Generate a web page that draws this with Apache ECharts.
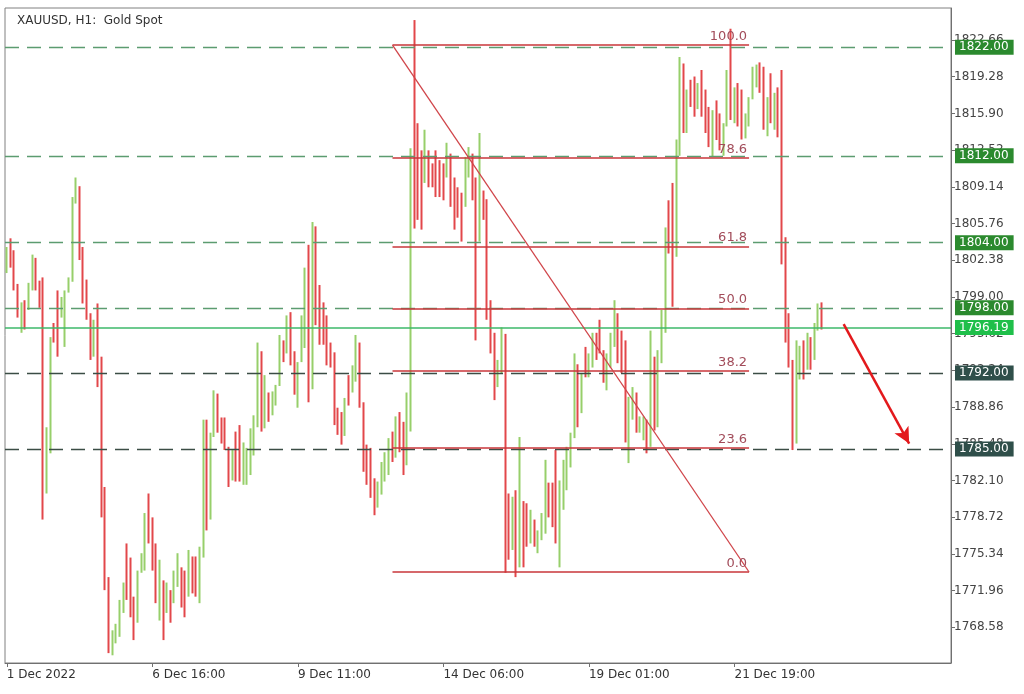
<!DOCTYPE html>
<html><head><meta charset="utf-8">
<script src="https://cdn.jsdelivr.net/npm/echarts@6/dist/echarts.min.js"></script>
<style>html,body{margin:0;padding:0;background:#fff}#c{width:1024px;height:694px}</style>
</head><body><div id="c"></div><script>
const chartTitle = 'XAUUSD, H1:  Gold Spot';
const xTickLabels = ['1 Dec 2022','6 Dec 16:00','9 Dec 11:00','14 Dec 06:00','19 Dec 01:00','21 Dec 19:00'];
const barsPerTick = 40;
const categoryCount = 260;
const yTicks = [1768.58,1771.96,1775.34,1778.72,1782.10,1785.48,1788.86,1792.24,1795.62,1799.00,1802.38,1805.76,1809.14,1812.52,1815.90,1819.28,1822.66];
const yMin = 1765.29, yMax = 1825.61;
// [open, close, low, high]
const priceBars = [
[1801.6,1803.0,1801.2,1803.6],[1803.0,1802.2,1801.7,1804.4],[1802.2,1800.0,1799.6,1803.3],[1800.0,1797.6,1797.1,1800.2],
[1796.5,1798.0,1795.7,1798.5],[1798.0,1796.6,1796.0,1798.7],[1798.0,1799.9,1797.8,1800.3],[1799.9,1802.4,1799.6,1802.9],
[1802.4,1800.0,1799.6,1802.6],[1800.0,1798.2,1798.0,1800.5],[1798.5,1783.0,1778.5,1800.8],[1783.0,1786.5,1780.9,1787.0],
[1786.5,1794.5,1784.6,1795.3],[1796.4,1795.0,1794.8,1796.6],[1799.0,1795.0,1793.5,1799.6],[1797.5,1798.6,1797.1,1799.0],
[1795.0,1799.0,1794.4,1799.6],[1799.5,1800.6,1799.4,1800.8],[1800.6,1807.8,1800.4,1808.2],[1807.8,1809.5,1807.6,1810.0],
[1809.0,1803.0,1802.4,1809.2],[1803.0,1799.0,1798.4,1803.6],[1799.5,1797.5,1796.9,1800.6],[1797.2,1793.8,1793.2,1797.5],
[1794.0,1796.3,1793.5,1796.9],[1798.0,1791.5,1790.7,1798.4],[1792.5,1780.5,1778.7,1793.5],[1780.5,1773.0,1772.0,1781.5],
[1773.0,1767.0,1766.2,1773.2],[1767.0,1767.8,1766.0,1768.3],[1767.6,1768.7,1767.1,1768.9],[1768.5,1770.8,1767.7,1771.1],
[1770.5,1772.4,1769.9,1772.7],[1775.8,1771.8,1771.1,1776.3],[1774.5,1770.0,1769.5,1775.0],[1770.5,1768.2,1767.4,1771.4],
[1769.5,1773.3,1769.0,1773.8],[1773.8,1775.1,1773.6,1775.4],[1774.5,1778.8,1773.8,1779.1],[1780.5,1777.0,1776.3,1780.9],
[1778.2,1774.5,1773.8,1778.7],[1775.8,1771.5,1770.8,1776.3],[1771.5,1773.5,1769.2,1774.8],[1772.5,1768.2,1767.4,1772.9],
[1770.2,1772.2,1769.9,1772.7],[1771.8,1770.0,1769.0,1772.0],[1771.2,1773.5,1770.8,1773.8],[1772.8,1775.0,1772.3,1775.4],
[1773.8,1771.0,1770.4,1774.1],[1773.0,1770.0,1769.5,1773.8],[1772.0,1775.2,1771.4,1775.7],[1775.0,1772.5,1771.7,1775.1],
[1774.5,1772.0,1771.4,1775.1],[1771.5,1775.5,1770.8,1776.0],[1775.5,1786.5,1775.0,1787.7],[1787.2,1779.0,1777.5,1787.7],
[1779.5,1785.8,1778.5,1786.5],[1786.5,1790.0,1786.1,1790.4],[1789.8,1787.0,1786.5,1790.1],[1787.5,1786.0,1785.5,1787.9],
[1787.3,1785.3,1784.9,1787.9],[1785.0,1782.0,1781.5,1785.2],[1782.3,1784.0,1782.1,1784.9],[1785.8,1783.0,1782.0,1786.6],
[1786.5,1782.5,1782.0,1787.2],[1782.0,1785.0,1781.7,1785.6],[1782.5,1784.5,1781.7,1785.1],[1783.0,1786.5,1782.6,1786.9],
[1785.0,1787.8,1784.4,1788.1],[1787.8,1793.5,1787.0,1794.8],[1793.0,1787.5,1786.6,1794.0],[1787.5,1790.5,1786.9,1791.8],
[1790.0,1788.0,1787.5,1790.2],[1788.5,1790.0,1788.1,1790.3],[1789.5,1790.7,1789.0,1790.9],[1791.0,1795.0,1790.8,1795.5],
[1794.6,1793.4,1793.0,1795.0],[1794.0,1797.0,1793.8,1797.3],[1797.3,1793.5,1792.7,1797.6],[1793.5,1790.8,1790.0,1794.0],
[1789.5,1792.8,1788.8,1793.0],[1793.5,1797.0,1793.0,1797.3],[1795.5,1801.0,1794.3,1801.7],[1801.5,1791.0,1789.3,1803.8],
[1791.5,1805.0,1790.5,1805.9],[1805.0,1797.5,1796.4,1805.5],[1799.5,1795.5,1794.6,1800.1],[1798.2,1795.0,1794.6,1798.5],
[1797.0,1793.5,1792.7,1797.3],[1794.5,1792.9,1792.5,1794.8],[1793.5,1788.0,1787.2,1793.9],[1788.5,1786.8,1786.3,1788.8],
[1788.0,1786.0,1785.4,1788.4],[1786.5,1789.4,1786.2,1789.7],[1791.5,1789.3,1789.0,1791.8],[1790.4,1792.4,1790.2,1792.7],
[1791.5,1795.0,1791.2,1795.5],[1794.5,1789.5,1788.8,1794.8],[1789.0,1783.5,1782.9,1789.3],[1785.0,1782.0,1781.7,1785.4],
[1784.5,1781.0,1780.5,1785.1],[1782.0,1779.5,1778.9,1782.3],[1780.0,1781.8,1779.6,1782.0],[1781.2,1783.5,1780.8,1783.8],
[1782.5,1784.5,1782.0,1784.7],[1783.0,1785.7,1782.6,1786.0],[1786.0,1784.3,1783.8,1786.6],[1784.5,1787.5,1784.2,1788.0],
[1788.0,1785.2,1784.7,1788.4],[1786.5,1783.5,1782.6,1787.5],[1784.0,1789.8,1783.5,1790.2],[1789.8,1811.0,1786.6,1812.7],
[1813.5,1811.5,1805.3,1824.5],[1811.5,1808.0,1806.1,1815.0],[1811.5,1806.0,1805.2,1812.5],[1809.8,1813.5,1809.5,1814.4],
[1812.2,1810.5,1809.1,1812.5],[1811.0,1809.8,1809.1,1811.3],[1812.0,1809.0,1808.2,1812.5],[1811.2,1808.8,1808.2,1811.6],
[1811.0,1808.5,1807.9,1811.3],[1810.2,1812.8,1810.0,1813.2],[1812.0,1808.0,1807.3,1812.2],[1809.5,1806.0,1805.2,1810.0],
[1808.5,1806.8,1806.3,1809.1],[1808.0,1804.8,1804.1,1808.6],[1807.5,1811.3,1807.3,1811.9],[1810.5,1812.5,1810.0,1812.8],
[1812.0,1808.5,1807.9,1812.2],[1809.5,1800.0,1795.0,1810.0],[1805.0,1808.5,1804.1,1814.1],[1808.6,1806.5,1806.1,1808.8],
[1807.5,1798.0,1796.9,1808.0],[1798.5,1794.5,1793.8,1798.7],[1795.0,1790.5,1789.5,1795.7],[1790.8,1792.8,1790.7,1793.2],
[1792.5,1795.8,1792.0,1796.2],[1795.5,1779.0,1773.6,1795.6],[1779.0,1775.5,1774.8,1780.9],[1776.0,1779.8,1775.7,1780.6],
[1780.5,1774.0,1773.2,1781.2],[1774.3,1782.5,1774.1,1786.1],[1780.0,1775.0,1774.1,1780.2],[1779.5,1777.0,1776.0,1780.0],
[1777.0,1778.8,1776.3,1779.4],[1778.3,1776.5,1776.0,1778.5],[1775.8,1777.2,1775.4,1777.5],[1777.0,1778.8,1776.6,1779.1],
[1777.5,1783.0,1777.2,1784.0],[1781.5,1779.2,1778.7,1781.9],[1781.5,1778.5,1777.8,1781.9],[1784.0,1777.0,1776.3,1784.9],
[1774.5,1781.5,1774.1,1782.1],[1780.0,1783.5,1779.4,1784.0],[1783.0,1784.8,1781.2,1785.2],[1784.0,1786.2,1783.3,1786.5],
[1786.3,1792.5,1786.0,1793.8],[1792.5,1788.0,1787.0,1792.8],[1788.5,1791.7,1788.3,1792.0],[1793.8,1792.0,1791.6,1794.4],
[1792.0,1793.5,1791.6,1793.8],[1793.0,1795.3,1792.5,1795.7],[1795.3,1794.0,1793.2,1795.7],[1796.5,1794.3,1793.8,1796.9],
[1794.0,1791.5,1791.1,1794.1],[1791.0,1793.5,1790.4,1793.8],[1793.0,1795.4,1792.5,1795.7],[1795.0,1797.5,1794.4,1798.7],
[1797.0,1793.5,1792.9,1797.5],[1795.5,1792.5,1792.0,1795.9],[1794.5,1787.0,1785.6,1795.0],[1785.0,1789.2,1783.7,1789.8],
[1788.0,1790.3,1787.7,1790.7],[1790.0,1787.0,1786.5,1790.2],[1786.8,1787.8,1786.5,1788.0],[1786.2,1787.6,1785.8,1788.0],
[1787.5,1785.0,1784.6,1787.7],[1785.5,1794.5,1785.2,1795.9],[1793.0,1787.5,1786.7,1793.5],[1787.5,1793.5,1787.0,1794.1],
[1793.0,1797.5,1792.9,1797.8],[1796.0,1804.5,1795.7,1805.4],[1807.5,1804.0,1803.0,1807.9],[1808.5,1800.0,1798.1,1809.5],
[1803.5,1812.5,1802.7,1813.5],[1812.5,1820.0,1812.0,1821.1],[1819.5,1815.5,1814.1,1820.5],[1815.0,1817.8,1814.1,1818.1],
[1818.5,1817.0,1816.5,1819.0],[1819.0,1816.0,1815.6,1819.3],[1816.5,1818.2,1816.3,1818.7],[1819.5,1816.0,1815.6,1819.9],
[1817.5,1814.5,1814.1,1818.1],[1816.0,1813.5,1812.8,1816.5],[1812.5,1815.8,1811.9,1816.2],[1816.8,1814.0,1813.45,1817.1],
[1815.6,1813.0,1812.5,1815.9],[1812.5,1814.8,1812.0,1815.0],[1815.0,1819.3,1814.7,1819.9],[1819.0,1815.5,1815.3,1823.7],
[1815.5,1818.0,1815.0,1818.3],[1818.2,1815.3,1814.7,1818.7],[1817.5,1814.5,1813.5,1818.1],[1814.0,1815.6,1813.6,1815.9],
[1815.3,1817.0,1814.7,1817.4],[1817.4,1819.8,1817.2,1820.2],[1818.8,1820.0,1818.3,1820.4],[1820.0,1818.5,1817.8,1820.6],
[1820.0,1815.0,1814.4,1820.2],[1814.2,1817.0,1813.8,1817.4],[1819.3,1815.5,1815.0,1819.6],[1815.0,1817.5,1814.4,1817.8],
[1818.0,1814.5,1813.7,1818.3],[1815.0,1804.0,1802.0,1819.9],[1804.0,1796.0,1794.8,1804.5],[1796.5,1793.0,1792.5,1797.5],
[1793.0,1786.5,1784.9,1793.2],[1787.0,1794.0,1785.5,1795.0],[1792.0,1793.3,1791.4,1794.5],[1794.8,1792.0,1791.4,1795.0],
[1792.5,1795.2,1792.3,1795.7],[1795.0,1792.8,1792.3,1795.3],[1793.5,1796.2,1793.2,1796.6],[1796.2,1798.0,1795.9,1798.4],
[1798.0,1796.19,1796.0,1798.5]
];
const greenLevels = [1822.00, 1812.00, 1804.00, 1798.00];
const grayLevels = [1792.00, 1785.00];
const currentPrice = 1796.19;
const fibRatios = [100, 78.6, 61.8, 50, 38.2, 23.6, 0];
const fibHigh = 1822.2, fibLow = 1773.67;
const fibStartBar = 106, fibEndBar = 204;
const arrowFrom = [230, 1796.5], arrowTo = [248, 1785.5];

const FONT = 'DejaVu Sans';
const categories = Array.from({length: categoryCount}, (_, i) =>
  (i % barsPerTick === 0 && xTickLabels[i / barsPerTick]) ? xTickLabels[i / barsPerTick] : '');

function levelLine(v, lineColor, dash, bg, width) {
  return {
    yAxis: v,
    lineStyle: {color: lineColor, type: dash, width: width},
    label: {show: true, position: 'end', distance: 4, formatter: v.toFixed(2),
      backgroundColor: bg, color: '#ffffff', padding: [2, 5, 1, 4],
      fontSize: 12, fontFamily: FONT}
  };
}
const mlData = [];
greenLevels.forEach(v => mlData.push(levelLine(v, '#5c9c70', [14, 8], '#2b8a2e', 1.4)));
grayLevels.forEach(v => mlData.push(levelLine(v, '#3b4d45', [14, 8], '#2f4f4a', 1.4)));
mlData.push(levelLine(currentPrice, '#3cb96a', 'solid', '#1fbf4a', 1.5));
fibRatios.forEach(r => {
  const lvl = fibLow + (fibHigh - fibLow) * r / 100;
  mlData.push([
    {coord: [fibStartBar, lvl], lineStyle: {color: '#c8363a', width: 1.5, type: 'solid'},
     label: {show: true, position: 'insideEndTop', distance: 2, formatter: r.toFixed(1),
       color: '#a24c5a', fontSize: 13, fontFamily: FONT}},
    {coord: [fibEndBar, lvl]}
  ]);
});
mlData.push([
  {coord: [fibStartBar, fibHigh], lineStyle: {color: '#d0454a', width: 1.3, type: 'solid'}, label: {show: false}},
  {coord: [fibEndBar, fibLow]}
]);
mlData.push([
  {coord: arrowFrom, symbol: 'none', lineStyle: {color: '#e3191c', width: 2.5, type: 'solid'}, label: {show: false}},
  {coord: arrowTo, symbol: 'arrow', symbolSize: [12, 16]}
]);

const chart = echarts.init(document.getElementById('c'), null, {renderer: 'canvas'});
chart.setOption({
  animation: false,
  backgroundColor: '#ffffff',
  title: {text: chartTitle, left: 12, top: 10,
    textStyle: {fontSize: 12, fontWeight: 'normal', color: '#333', fontFamily: FONT}},
  grid: {left: 5, right: 73, top: 8, bottom: 31, show: true, borderColor: '#808080', borderWidth: 1, backgroundColor: '#fff'},
  xAxis: {
    type: 'category', data: categories, boundaryGap: true,
    axisLine: {show: true, lineStyle: {color: '#707070'}},
    axisTick: {show: true, alignWithLabel: true, length: 4, lineStyle: {color: '#707070'},
      interval: (i, v) => v !== ''},
    axisLabel: {interval: (i, v) => v !== '', align: 'left', margin: 6,
      color: '#333', fontSize: 12, fontFamily: FONT},
    splitLine: {show: false}
  },
  yAxis: {
    type: 'value', position: 'right', min: yMin, max: yMax, scale: true,
    axisLine: {show: true, lineStyle: {color: '#707070'}},
    axisTick: {show: true, length: 4, customValues: yTicks, lineStyle: {color: '#707070'}},
    axisLabel: {customValues: yTicks, formatter: v => v.toFixed(2), margin: 3,
      color: '#444', fontSize: 12, fontFamily: FONT},
    splitLine: {show: false}
  },
  series: [{
    type: 'candlestick',
    data: priceBars,
    barWidth: 0.5,
    itemStyle: {color: '#97cf6a', color0: '#e2474a', borderColor: '#97cf6a', borderColor0: '#e2474a', borderWidth: 2},
    markLine: {symbol: ['none', 'none'], silent: true, animation: false, data: mlData}
  }]
});
</script></body></html>
